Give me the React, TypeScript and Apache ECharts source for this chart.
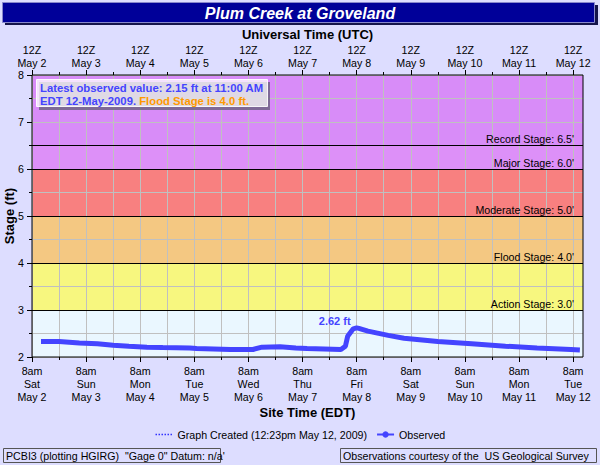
import { useEffect, useRef } from 'react';
import * as echarts from 'echarts';

// Hours since 12Z May 2, 2009 and observed stage (ft)
const obsHours = [4, 12, 21, 29, 36, 43, 51, 58, 70, 73, 88, 98, 102, 110, 117, 122, 137, 139, 140, 142.5, 144, 145, 149, 158, 165, 180, 195, 210, 224, 239, 243];
const obsStage = [2.33, 2.33, 2.30, 2.28, 2.25, 2.23, 2.21, 2.20, 2.19, 2.18, 2.16, 2.16, 2.21, 2.22, 2.19, 2.18, 2.16, 2.23, 2.44, 2.60, 2.62, 2.61, 2.55, 2.46, 2.40, 2.33, 2.28, 2.23, 2.19, 2.16, 2.15];

const dayLabels = ['May 2', 'May 3', 'May 4', 'May 5', 'May 6', 'May 7', 'May 8', 'May 9', 'May 10', 'May 11', 'May 12'];
const weekdays = ['Sat', 'Sun', 'Mon', 'Tue', 'Wed', 'Thu', 'Fri', 'Sat', 'Sun', 'Mon', 'Tue'];
const utcHourLabel = '12Z';
const localHourLabel = '8am';

const stageNames = ['Record Stage', 'Major Stage', 'Moderate Stage', 'Flood Stage', 'Action Stage'];
const stageValues = [6.5, 6.0, 5.0, 4.0, 3.0];
const bandLows = [6.5, 6.0, 5.0, 4.0, 3.0, 2.0];
const bandHighs = [8.0, 6.5, 6.0, 5.0, 4.0, 3.0];
const bandColors = ['#D88CF8', '#DD90F8', '#F88080', '#F4C882', '#F7F77F', '#EAF7FF'];

const peakHour = 144;
const peakStage = 2.62;
const endHour = 244 + 23 / 60; // graph created 16:23Z May 12
const tickSpanHours = 240;

const FONT = 'Liberation Sans, Arial, sans-serif';
const FS = 10.67;
const BLUE = '#4444FF';

export default function App() {
  const ref = useRef<HTMLDivElement>(null);

  useEffect(() => {
    if (!ref.current) return;
    const chart = echarts.init(ref.current, undefined, { renderer: 'svg' });
    const plotLeft = 32;
    const plotTop = 75;
    const plotW = 551;
    const plotH = 282;
    const tickW = (plotW * tickSpanHours) / endHour;

    const baseAxis = {
      type: 'value',
      gridIndex: 1,
      min: 0,
      max: tickSpanHours,
      interval: 24,
      z: 1,
      axisLine: { show: false },
      axisTick: { show: true, length: 5, lineStyle: { color: '#000', width: 1 } },
      minorTick: { show: true, splitNumber: 2, length: 3, lineStyle: { color: '#000', width: 1 } },
    };

    const option: any = {
      animation: false,
      backgroundColor: '#DDDDFF',
      textStyle: { fontFamily: FONT },
      grid: [
        { left: plotLeft, top: plotTop, width: plotW, height: plotH, show: true, z: 4, borderColor: '#000', borderWidth: 1, backgroundColor: 'transparent', outerBoundsMode: 'none', containLabel: false },
        { left: plotLeft, top: plotTop, width: tickW, height: plotH, show: false, outerBoundsMode: 'none', containLabel: false },
      ],
      xAxis: [
        { type: 'value', gridIndex: 0, min: 0, max: endHour, show: false },
        {
          ...baseAxis,
          position: 'bottom',
          splitLine: { show: true, lineStyle: { color: '#C0C0C0', width: 1 } },
          minorSplitLine: { show: true, lineStyle: { color: '#C0C0C0', width: 1 } },
          axisLabel: {
            margin: 7,
            color: '#000',
            fontSize: FS,
            lineHeight: 13,
            fontFamily: FONT,
            formatter: (v: number) => {
              const i = Math.round(v / 24);
              return `${localHourLabel}\n${weekdays[i]}\n${dayLabels[i]}`;
            },
          },
        },
        {
          ...baseAxis,
          position: 'top',
          splitLine: { show: false },
          minorSplitLine: { show: false },
          axisLabel: {
            margin: 6,
            color: '#000',
            fontSize: FS,
            lineHeight: 13,
            fontFamily: FONT,
            formatter: (v: number) => {
              const i = Math.round(v / 24);
              return `${utcHourLabel}\n${dayLabels[i]}`;
            },
          },
        },
      ],
      yAxis: [
        {
          type: 'value',
          gridIndex: 0,
          min: 2,
          max: 8,
          interval: 1,
          z: 1,
          axisLine: { show: false },
          axisTick: { show: true, length: 5, lineStyle: { color: '#000', width: 1 } },
          minorTick: { show: true, splitNumber: 2, length: 3, lineStyle: { color: '#000', width: 1 } },
          splitLine: { show: true, lineStyle: { color: '#C0C0C0', width: 1 } },
          minorSplitLine: { show: true, lineStyle: { color: '#C0C0C0', width: 1 } },
          axisLabel: { margin: 8, color: '#000', fontSize: FS, fontFamily: FONT },
        },
        { type: 'value', gridIndex: 1, min: 2, max: 8, show: false },
      ],
      legend: {
        left: 'center',
        top: 424,
        itemWidth: 17,
        itemHeight: 8,
        itemGap: 9,
        textStyle: { color: '#000', fontSize: FS, fontFamily: FONT },
        data: [
          { name: 'Graph Created (12:23pm May 12, 2009)', lineStyle: { width: 1.5 }, itemStyle: { opacity: 0 } },
          { name: 'Observed', lineStyle: { width: 2 } },
        ],
      },
      series: [
        {
          name: 'bands',
          type: 'line',
          xAxisIndex: 0,
          yAxisIndex: 0,
          data: [],
          z: 0,
          markArea: {
            silent: true,
            z: 0,
            data: bandLows.map((lo, i) => [
              { yAxis: lo, itemStyle: { color: bandColors[i], opacity: 1 } },
              { yAxis: bandHighs[i] },
            ]),
          },
        },
        {
          name: 'stages',
          type: 'line',
          xAxisIndex: 0,
          yAxisIndex: 0,
          data: [],
          z: 2,
          markLine: {
            silent: true,
            z: 2,
            symbol: ['none', 'none'],
            lineStyle: { color: '#000', width: 1, type: 'solid' },
            label: {
              show: true,
              position: 'insideEndTop',
              distance: [9, 1],
              color: '#000',
              fontSize: FS,
              fontFamily: FONT,
            },
            data: stageValues.map((v, i) => ({
              yAxis: v,
              label: { formatter: `${stageNames[i]}: ${v.toFixed(1)}'` },
            })),
          },
        },
        {
          name: 'Graph Created (12:23pm May 12, 2009)',
          type: 'line',
          xAxisIndex: 0,
          yAxisIndex: 0,
          data: [],
          symbol: 'none',
          lineStyle: { type: 'dotted', width: 1.5, color: '#3333FF' },
          itemStyle: { color: '#3333FF' },
        },
        {
          name: 'Observed',
          type: 'line',
          xAxisIndex: 0,
          yAxisIndex: 0,
          z: 3,
          symbol: 'circle',
          symbolSize: 6,
          showSymbol: false,
          lineStyle: { width: 5, color: BLUE },
          itemStyle: { color: BLUE },
          data: obsHours.map((h, i) => [h, obsStage[i]]),
          markPoint: {
            symbol: 'circle',
            symbolSize: 0,
            silent: true,
            data: [{ coord: [peakHour, peakStage] }],
            label: {
              show: true,
              position: 'top',
              offset: [-22, 4],
              formatter: `${peakStage.toFixed(2)} ft`,
              color: BLUE,
              fontWeight: 'bold',
              fontSize: 11,
              fontFamily: FONT,
            },
          },
        },
      ],
      graphic: [
        { type: 'rect', z: 10, shape: { x: 5, y: 5, width: 593, height: 20 }, style: { fill: '#14144A' } },
        { type: 'rect', z: 11, shape: { x: 2.5, y: 2.5, width: 592, height: 20 }, style: { fill: '#000099', stroke: '#8888CC', lineWidth: 1 } },
        {
          type: 'text', z: 12, x: 300, y: 13,
          style: { text: 'Plum Creek at Groveland', fill: '#FFFFFF', fontStyle: 'italic', fontWeight: 'bold', fontSize: 16, fontFamily: FONT, align: 'center', verticalAlign: 'middle' },
        },
        {
          type: 'text', z: 12, x: 307.5, y: 34,
          style: { text: 'Universal Time (UTC)', fill: '#000', fontWeight: 'bold', fontSize: 13, fontFamily: FONT, align: 'center', verticalAlign: 'middle' },
        },
        {
          type: 'text', z: 12, x: 307.5, y: 412,
          style: { text: 'Site Time (EDT)', fill: '#000', fontWeight: 'bold', fontSize: 13, fontFamily: FONT, align: 'center', verticalAlign: 'middle' },
        },
        {
          type: 'text', z: 12, x: 9, y: 216, rotation: Math.PI / 2,
          style: { text: 'Stage (ft)', fill: '#000', fontWeight: 'bold', fontSize: 13, fontFamily: FONT, align: 'center', verticalAlign: 'middle' },
        },
        { type: 'rect', z: 10, shape: { x: 39, y: 82, width: 231, height: 28 }, style: { fill: 'rgba(90,90,110,0.7)' } },
        { type: 'rect', z: 11, shape: { x: 36.5, y: 79.5, width: 231, height: 27 }, style: { fill: 'rgba(255,255,255,0.75)', stroke: 'rgba(255,255,255,0.9)', lineWidth: 1 } },
        {
          type: 'text', z: 12, x: 40, y: 87.5,
          style: { text: 'Latest observed value: 2.15 ft at 11:00 AM', fill: BLUE, fontWeight: 'bold', fontSize: 11.3, fontFamily: FONT, verticalAlign: 'middle' },
        },
        {
          type: 'text', z: 12, x: 40, y: 100.5,
          style: {
            text: '{b|EDT 12-May-2009. }{o|Flood Stage is 4.0 ft.}',
            fontWeight: 'bold', fontSize: 11.3, fontFamily: FONT,
            verticalAlign: 'middle',
            rich: {
              b: { fill: BLUE, fontWeight: 'bold', fontSize: 11.3, fontFamily: FONT },
              o: { fill: '#FF9900', fontWeight: 'bold', fontSize: 11.3, fontFamily: FONT },
            },
          },
        },
        { type: 'rect', z: 10, shape: { x: 3.5, y: 448.5, width: 217, height: 14 }, style: { fill: 'none', stroke: '#555555', lineWidth: 1 } },
        {
          type: 'text', z: 12, x: 6, y: 456,
          style: { text: 'PCBI3 (plotting HGIRG)  "Gage 0" Datum: n/a\'', fill: '#000', fontSize: FS, fontFamily: FONT, verticalAlign: 'middle' },
        },
        { type: 'rect', z: 10, shape: { x: 340.5, y: 448.5, width: 256, height: 14 }, style: { fill: 'none', stroke: '#555555', lineWidth: 1 } },
        {
          type: 'text', z: 12, x: 343, y: 456,
          style: { text: 'Observations courtesy of the  US Geological Survey', fill: '#000', fontSize: FS, fontFamily: FONT, verticalAlign: 'middle' },
        },
      ],
    };

    chart.setOption(option);
    return () => chart.dispose();
  }, []);

  return <div ref={ref} style={{ position: 'fixed', left: 0, top: 0, width: 600, height: 465 }} />;
}
